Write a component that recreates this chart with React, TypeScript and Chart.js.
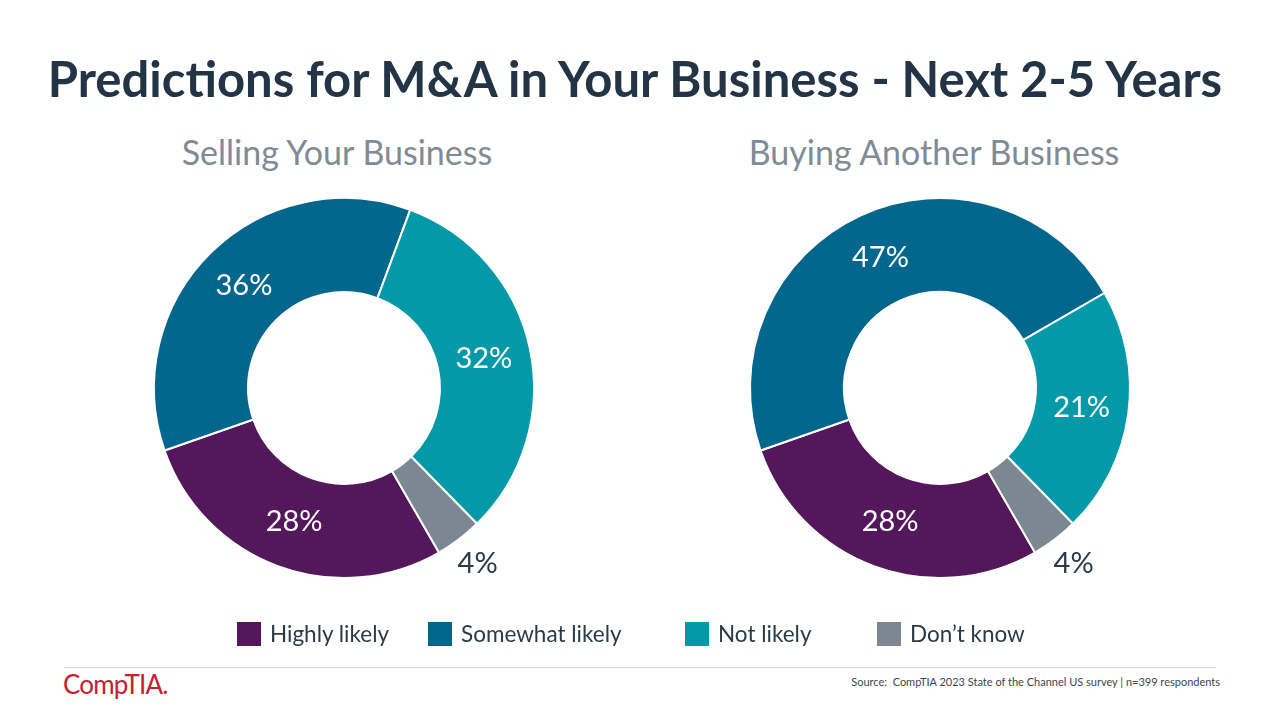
import React, { useEffect, useRef } from "react";
import { Chart, registerables } from "chart.js";

Chart.register(...registerables);

const categories = ["Highly likely", "Somewhat likely", "Not likely", "Don’t know"];
const sellingValues = [28, 36, 32, 4];
const buyingValues = [28, 47, 21, 4];
const sliceColors = ["#54175C", "#02668D", "#0399A8", "#7B8792"];
const chartTitles = ["Selling Your Business", "Buying Another Business"];
const mainTitle = "Predictions for M&A in Your Business - Next 2-5 Years";
const sourceText = "Source:  CompTIA 2023 State of the Channel US survey | n=399 respondents";

const FONT = "Lato, 'Open Sans', sans-serif";

const labelPlugin = {
  id: "sliceLabels",
  afterDatasetsDraw(chart: any) {
    const ctx = chart.ctx;
    const meta = chart.getDatasetMeta(0);
    const data = chart.data.datasets[0].data as number[];
    ctx.save();
    ctx.textAlign = "center";
    ctx.textBaseline = "middle";
    ctx.font = `29px ${FONT}`;
    meta.data.forEach((arc: any, i: number) => {
      const p = arc.getProps(["x", "y", "startAngle", "endAngle", "innerRadius", "outerRadius"], true);
      const mid = (p.startAngle + p.endAngle) / 2;
      const small = data[i] < 10;
      const r = small ? p.outerRadius + 31 : (p.innerRadius + p.outerRadius) / 2;
      ctx.fillStyle = small ? "#2B3A47" : "#FFFFFF";
      ctx.fillText(`${data[i]}%`, p.x + Math.cos(mid) * r, p.y + Math.sin(mid) * r);
    });
    ctx.restore();
  },
};

function Donut({ values, left }: { values: number[]; left: number }) {
  const ref = useRef<HTMLCanvasElement | null>(null);
  useEffect(() => {
    if (!ref.current) return;
    const chart = new Chart(ref.current, {
      type: "doughnut",
      data: {
        labels: categories,
        datasets: [
          {
            data: values,
            backgroundColor: sliceColors,
            borderColor: "#FFFFFF",
            borderWidth: 2,
            hoverBorderWidth: 2,
          },
        ],
      },
      options: {
        responsive: false,
        animation: false,
        cutout: "50.5%",
        rotation: 150,
        layout: { padding: 49 },
        plugins: {
          legend: { display: false },
          tooltip: { enabled: false },
        },
        events: [],
      },
      plugins: [labelPlugin],
    });
    return () => chart.destroy();
  }, [values]);
  return (
    <canvas
      ref={ref}
      width={480}
      height={480}
      style={{ position: "absolute", left, top: 148, width: 480, height: 480 }}
    />
  );
}

export default function App() {
  const legendX = [237, 428, 685, 877];
  return (
    <div
      style={{
        position: "fixed",
        left: 0,
        top: 0,
        width: 1280,
        height: 720,
        background: "#FFFFFF",
        fontFamily: FONT,
        overflow: "hidden",
      }}
    >
      <div
        style={{
          position: "absolute",
          left: 0,
          width: 1270,
          top: 50,
          textAlign: "center",
          fontWeight: 700,
          fontSize: 49,
          lineHeight: "56px",
          color: "#223446",
          whiteSpace: "nowrap",
        }}
      >
        {mainTitle}
      </div>
      {chartTitles.map((t, i) => (
        <div
          key={t}
          style={{
            position: "absolute",
            left: (i === 0 ? 337 : 934) - 250,
            width: 500,
            top: 132,
            textAlign: "center",
            fontSize: 34,
            lineHeight: "40px",
            color: "#808B95",
            whiteSpace: "nowrap",
          }}
        >
          {t}
        </div>
      ))}
      <Donut values={sellingValues} left={104} />
      <Donut values={buyingValues} left={700} />
      {categories.map((c, i) => (
        <div key={c}>
          <div
            style={{
              position: "absolute",
              left: legendX[i],
              top: 622,
              width: 24,
              height: 24,
              background: sliceColors[i],
            }}
          />
          <div
            style={{
              position: "absolute",
              left: legendX[i] + 33,
              top: 619,
              fontSize: 22.5,
              lineHeight: "30px",
              color: "#2B3A47",
              whiteSpace: "nowrap",
            }}
          >
            {c}
          </div>
        </div>
      ))}
      <div
        style={{
          position: "absolute",
          left: 64,
          top: 667,
          width: 1152,
          height: 1,
          background: "#D9D9D9",
        }}
      />
      <div
        style={{
          position: "absolute",
          left: 63,
          top: 669,
          fontSize: 26,
          lineHeight: "30px",
          color: "#C8202F",
          letterSpacing: -0.8,
          whiteSpace: "nowrap",
        }}
      >
        CompTIA.
      </div>
      <div
        style={{
          position: "absolute",
          right: 60,
          top: 675,
          fontSize: 11,
          lineHeight: "14px",
          color: "#3A4650",
          whiteSpace: "pre",
        }}
      >
        {sourceText}
      </div>
    </div>
  );
}
